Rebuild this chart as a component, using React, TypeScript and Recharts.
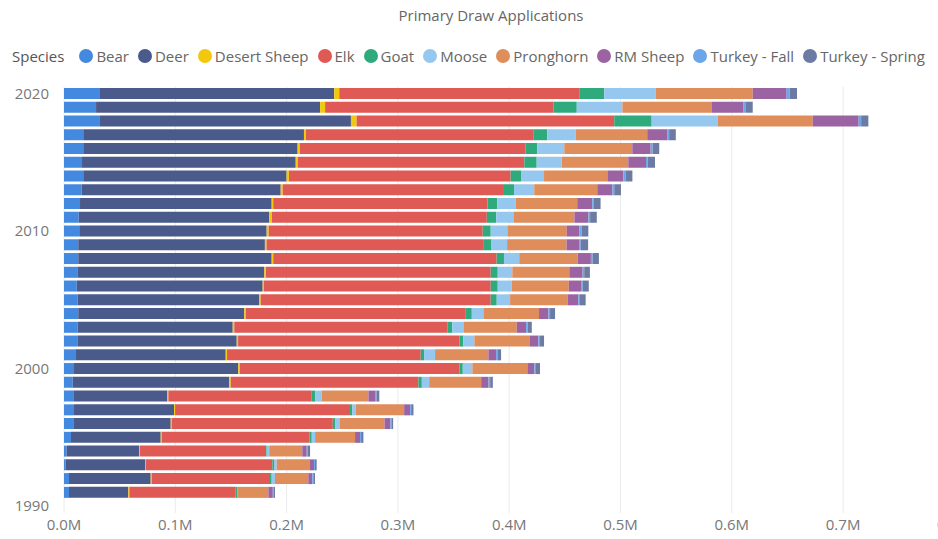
import React from "react";
import { BarChart, Bar, XAxis, YAxis, CartesianGrid } from "recharts";

// applications in thousands, 1991..2020 (1990 has no data but sits on the axis)
const years = [
  1991, 1992, 1993, 1994, 1995, 1996, 1997, 1998, 1999, 2000, 2001, 2002, 2003, 2004, 2005,
  2006, 2007, 2008, 2009, 2010, 2011, 2012, 2013, 2014, 2015, 2016, 2017, 2018, 2019, 2020,
];
const emptyYears = [1990];

const bear = [4.5, 4.5, 1.5, 2.4, 6.3, 8.4, 9.0, 8.4, 7.8, 9.0, 10.8, 12.0, 12.3, 12.8, 12.3, 11.4, 12.0, 12.8, 12.8, 13.7, 13.2, 14.4, 15.9, 17.3, 16.2, 17.3, 17.3, 32.3, 28.8, 31.7];
const deer = [53.3, 73.4, 71.3, 65.0, 80.6, 87.5, 89.9, 84.5, 140.7, 147.6, 134.5, 143.2, 139.3, 149.2, 162.9, 167.1, 168.0, 173.8, 167.7, 168.4, 171.3, 172.2, 178.8, 182.7, 192.0, 192.6, 198.3, 225.5, 201.3, 211.1];
const desertSheep = [0.9, 0.9, 0.6, 0.9, 0.9, 0.9, 0.9, 0.9, 1.3, 1.3, 1.2, 1.2, 1.4, 1.3, 1.5, 1.2, 1.5, 1.4, 1.5, 1.8, 2.2, 1.4, 1.8, 2.1, 1.8, 2.1, 1.8, 5.1, 4.5, 4.5];
const elk = [95.6, 106.3, 113.8, 112.3, 132.6, 144.7, 157.2, 128.8, 168.6, 197.3, 174.0, 198.8, 191.4, 197.7, 206.7, 203.7, 201.9, 200.7, 194.6, 192.3, 193.2, 192.6, 198.8, 199.2, 203.6, 202.8, 204.2, 231.5, 205.1, 215.6];
const goat = [1.4, 1.5, 1.5, 1.5, 2.2, 2.4, 2.1, 3.0, 3.1, 3.1, 3.0, 3.6, 4.5, 5.4, 5.4, 6.3, 6.3, 6.6, 7.5, 7.2, 8.4, 8.6, 9.0, 9.3, 11.1, 10.4, 12.6, 33.6, 21.0, 22.5];
const moose = [0, 3.0, 2.4, 2.3, 3.0, 3.6, 3.1, 6.0, 6.6, 8.6, 9.9, 9.9, 10.5, 10.4, 12.0, 12.6, 13.1, 13.7, 14.0, 14.9, 15.5, 16.8, 18.2, 20.7, 22.5, 24.3, 25.5, 59.3, 41.0, 46.2];
const pronghorn = [27.9, 29.9, 29.9, 29.7, 35.9, 40.4, 43.4, 41.9, 46.7, 49.4, 47.9, 50.0, 47.4, 50.0, 51.8, 51.2, 51.2, 52.5, 53.4, 53.4, 54.8, 55.1, 56.6, 56.9, 59.8, 61.1, 64.3, 85.4, 80.0, 87.2];
const rmSheep = [4.0, 3.6, 3.6, 4.0, 4.5, 5.4, 5.4, 6.0, 6.6, 6.3, 6.9, 7.5, 8.4, 8.4, 9.5, 11.1, 12.0, 11.9, 11.3, 11.3, 12.6, 13.5, 13.5, 14.4, 15.9, 16.5, 18.3, 41.3, 28.5, 30.5];
const turkeyFall = [0.7, 0.9, 0.9, 0.9, 0.9, 0.9, 0.9, 1.3, 1.5, 1.5, 1.2, 1.5, 1.5, 1.5, 1.5, 1.5, 1.4, 1.5, 1.5, 2.2, 1.5, 1.5, 1.8, 2.2, 1.5, 1.8, 1.4, 2.2, 2.0, 2.7];
const turkeySpring = [1.3, 1.5, 1.5, 2.1, 2.1, 1.5, 2.1, 2.5, 2.4, 3.6, 3.3, 3.6, 3.6, 4.5, 5.1, 5.4, 5.1, 5.7, 6.6, 5.9, 6.0, 6.0, 6.0, 5.9, 6.6, 5.9, 6.0, 6.5, 6.6, 6.6];

const xTicks = [0, 100, 200, 300, 400, 500, 600, 700, 800];

const species = [
  { key: "bear", name: "Bear", color: "#4289DF", values: bear },
  { key: "deer", name: "Deer", color: "#4A5A8A", values: deer },
  { key: "desertSheep", name: "Desert Sheep", color: "#F2C80F", values: desertSheep },
  { key: "elk", name: "Elk", color: "#DF5A55", values: elk },
  { key: "goat", name: "Goat", color: "#2FAA7C", values: goat },
  { key: "moose", name: "Moose", color: "#96C7EF", values: moose },
  { key: "pronghorn", name: "Pronghorn", color: "#DE8D5B", values: pronghorn },
  { key: "rmSheep", name: "RM Sheep", color: "#9B63A1", values: rmSheep },
  { key: "turkeyFall", name: "Turkey - Fall", color: "#6CA6E8", values: turkeyFall },
  { key: "turkeySpring", name: "Turkey - Spring", color: "#6C7BA3", values: turkeySpring },
];

const rows = [
  ...emptyYears.map((year) => ({ year })),
  ...years.map((year, i) => {
    const row: Record<string, number> = { year };
    species.forEach((s) => {
      row[s.key] = s.values[i];
    });
    return row;
  }),
];

const font = "'Open Sans', sans-serif";

export default function App() {
  return (
    <div
      style={{
        position: "absolute",
        left: 0,
        top: 0,
        width: 938,
        height: 539,
        overflow: "hidden",
        background: "#fff",
        fontFamily: font,
      }}
    >
      <div
        style={{
          position: "absolute",
          left: 0,
          top: 5,
          width: 982,
          textAlign: "center",
          fontSize: 15,
          color: "#666",
        }}
      >
        Primary Draw Applications
      </div>
      <div
        style={{
          position: "absolute",
          left: 12,
          top: 46,
          display: "flex",
          alignItems: "center",
          fontSize: 15,
          color: "#666",
          whiteSpace: "nowrap",
        }}
      >
        <span style={{ color: "#555", marginRight: 15 }}>Species</span>
        {species.map((s) => (
          <span key={s.key} style={{ display: "flex", alignItems: "center", marginRight: 9 }}>
            <span
              style={{
                width: 14,
                height: 14,
                borderRadius: "50%",
                background: s.color,
                marginRight: 3,
              }}
            />
            {s.name}
          </span>
        ))}
      </div>
      <BarChart
        width={1000}
        height={539}
        data={rows}
        layout="vertical"
        barCategoryGap="10%"
        margin={{ top: 86.6, right: 45.6, left: 8, bottom: 0 }}
      >
        <CartesianGrid horizontal={false} stroke="#EAEAEA" />
        <XAxis
          type="number"
          domain={[0, 800]}
          ticks={xTicks}
          interval={0}
          height={26}
          axisLine={false}
          tickLine={false}
          tickSize={0}
          tickMargin={6}
          tick={{ fill: "#777", fontSize: 15 }}
          tickFormatter={(v: number) => (v / 1000).toFixed(1) + "M"}
        />
        <YAxis
          type="category"
          dataKey="year"
          reversed
          interval={9}
          width={56}
          axisLine={false}
          tickLine={false}
          tickSize={0}
          tickMargin={15}
          tick={{ fill: "#777", fontSize: 15 }}
        />
        {species.map((s) => (
          <Bar
            key={s.key}
            dataKey={s.key}
            name={s.name}
            stackId="a"
            fill={s.color}
            isAnimationActive={false}
          />
        ))}
      </BarChart>
    </div>
  );
}
